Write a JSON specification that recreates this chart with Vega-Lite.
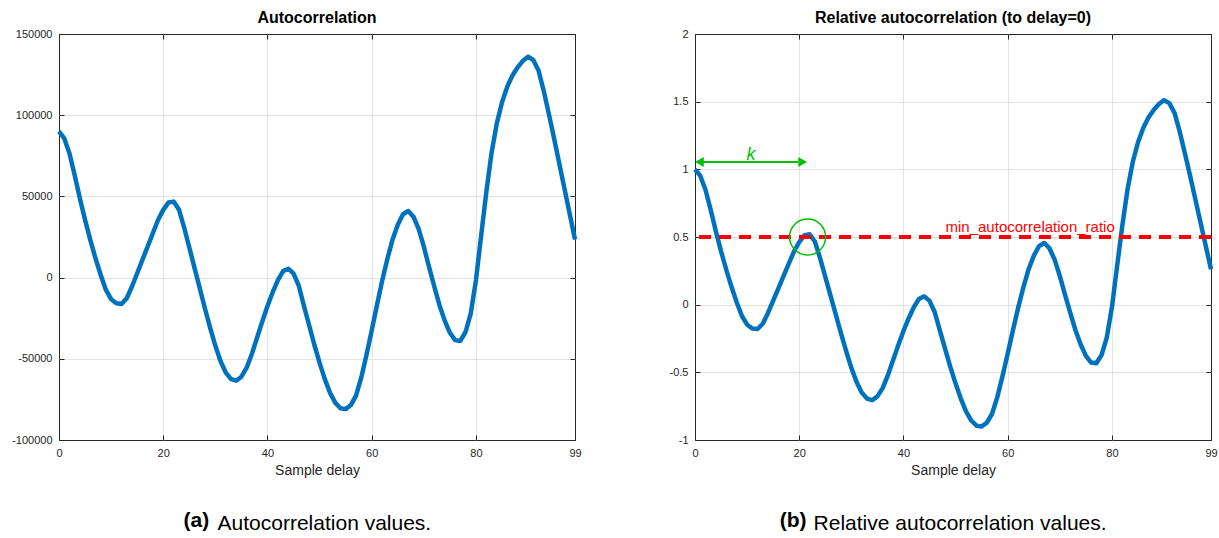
{
  "$schema": "https://vega.github.io/schema/vega-lite/v6.json",
  "padding": {"left": 11, "top": 9, "right": 0, "bottom": 0},
  "datasets": {
    "ac": [
      {"d":0,"v":90000,"r":1},{"d":1,"v":85800,"r":0.953},{"d":2,"v":76600,"r":0.851},{"d":3,"v":63200,"r":0.702},{"d":4,"v":48900,"r":0.543},
      {"d":5,"v":35500,"r":0.394},{"d":6,"v":23200,"r":0.258},{"d":7,"v":11900,"r":0.132},{"d":8,"v":1600,"r":0.018},{"d":9,"v":-7600,"r":-0.084},
      {"d":10,"v":-13300,"r":-0.148},{"d":11,"v":-15800,"r":-0.176},{"d":12,"v":-16200,"r":-0.18},{"d":13,"v":-12700,"r":-0.141},{"d":14,"v":-5500,"r":-0.061},
      {"d":15,"v":2700,"r":0.03},{"d":16,"v":10900,"r":0.121},{"d":17,"v":19100,"r":0.212},{"d":18,"v":27300,"r":0.303},{"d":19,"v":35500,"r":0.394},
      {"d":20,"v":41700,"r":0.463},{"d":21,"v":46200,"r":0.513},{"d":22,"v":46800,"r":0.52},{"d":23,"v":42000,"r":0.467},{"d":24,"v":31000,"r":0.344},
      {"d":25,"v":18500,"r":0.206},{"d":26,"v":6000,"r":0.067},{"d":27,"v":-6500,"r":-0.072},{"d":28,"v":-19000,"r":-0.211},{"d":29,"v":-31000,"r":-0.344},
      {"d":30,"v":-42000,"r":-0.467},{"d":31,"v":-51500,"r":-0.572},{"d":32,"v":-58500,"r":-0.65},{"d":33,"v":-62500,"r":-0.694},{"d":34,"v":-63500,"r":-0.706},
      {"d":35,"v":-61000,"r":-0.678},{"d":36,"v":-55500,"r":-0.617},{"d":37,"v":-47000,"r":-0.522},{"d":38,"v":-37000,"r":-0.411},{"d":39,"v":-27000,"r":-0.3},
      {"d":40,"v":-17500,"r":-0.194},{"d":41,"v":-9000,"r":-0.1},{"d":42,"v":-1500,"r":-0.017},{"d":43,"v":4000,"r":0.044},{"d":44,"v":5500,"r":0.061},
      {"d":45,"v":2500,"r":0.028},{"d":46,"v":-5000,"r":-0.056},{"d":47,"v":-17500,"r":-0.194},{"d":48,"v":-29500,"r":-0.328},{"d":49,"v":-41500,"r":-0.461},
      {"d":50,"v":-52500,"r":-0.583},{"d":51,"v":-62500,"r":-0.694},{"d":52,"v":-71000,"r":-0.789},{"d":53,"v":-77000,"r":-0.856},{"d":54,"v":-80500,"r":-0.894},
      {"d":55,"v":-81000,"r":-0.9},{"d":56,"v":-78500,"r":-0.872},{"d":57,"v":-72500,"r":-0.806},{"d":58,"v":-61500,"r":-0.683},{"d":59,"v":-47500,"r":-0.528},
      {"d":60,"v":-32500,"r":-0.361},{"d":61,"v":-17000,"r":-0.189},{"d":62,"v":-2000,"r":-0.022},{"d":63,"v":11500,"r":0.128},{"d":64,"v":23500,"r":0.261},
      {"d":65,"v":32500,"r":0.361},{"d":66,"v":39000,"r":0.433},{"d":67,"v":41000,"r":0.456},{"d":68,"v":37500,"r":0.417},{"d":69,"v":30000,"r":0.333},
      {"d":70,"v":19000,"r":0.211},{"d":71,"v":6500,"r":0.072},{"d":72,"v":-5500,"r":-0.061},{"d":73,"v":-17000,"r":-0.189},{"d":74,"v":-26500,"r":-0.294},
      {"d":75,"v":-34000,"r":-0.378},{"d":76,"v":-38500,"r":-0.428},{"d":77,"v":-39000,"r":-0.433},{"d":78,"v":-33500,"r":-0.372},{"d":79,"v":-22000,"r":-0.244},
      {"d":80,"v":-1500,"r":-0.017},{"d":81,"v":26000,"r":0.289},{"d":82,"v":53000,"r":0.589},{"d":83,"v":77000,"r":0.856},{"d":84,"v":95000,"r":1.056},
      {"d":85,"v":108000,"r":1.2},{"d":86,"v":117500,"r":1.306},{"d":87,"v":124500,"r":1.383},{"d":88,"v":129500,"r":1.439},{"d":89,"v":133500,"r":1.483},
      {"d":90,"v":136000,"r":1.511},{"d":91,"v":134000,"r":1.489},{"d":92,"v":127500,"r":1.417},{"d":93,"v":115000,"r":1.278},{"d":94,"v":100500,"r":1.117},
      {"d":95,"v":85500,"r":0.95},{"d":96,"v":70000,"r":0.778},{"d":97,"v":54500,"r":0.606},{"d":98,"v":39000,"r":0.433},{"d":99,"v":23500,"r":0.261}
    ],
    "ratioLabel": [{"d": 64.3, "r": 0.54, "label": "min_autocorrelation_ratio"}],
    "peak": [{"d": 21.6, "r": 0.5}],
    "arrow": [{"d": 0.85, "d2": 20.65, "r": 1.055}],
    "arrowLeft": [{"d": 0.85, "r": 1.055}],
    "arrowRight": [{"d": 20.65, "r": 1.055}],
    "kLabel": [{"d": 10.75, "r": 1.07, "label": "k"}]
  },
  "hconcat": [
    {
      "title": {"text": "(a)", "orient": "bottom", "fontWeight": "bold", "fontSize": 21, "color": "black", "anchor": "middle", "dx": -100, "dy": -24, "offset": 0},
      "vconcat": [
        {
          "title": {"text": "Autocorrelation values.", "orient": "bottom", "fontWeight": "normal", "fontSize": 21, "color": "black", "anchor": "middle", "dx": 28, "offset": 35},
          "vconcat": [
            {
              "width": 516,
              "height": 406,
              "title": {"text": "Autocorrelation"},
              "data": {"name": "ac"},
              "layer": [
                {
                  "mark": {"type": "line", "opacity": 0},
                  "encoding": {
                    "x": {"field": "d", "type": "quantitative", "axis": {"orient": "bottom", "offset": 0, "values": [20, 40, 60, 80], "grid": true, "ticks": false, "labels": false, "domain": false, "title": null}},
                    "y": {"field": "v", "type": "quantitative", "axis": {"orient": "left", "offset": 0, "values": [-50000, 0, 50000, 100000], "grid": true, "ticks": false, "labels": false, "domain": false, "title": null}}
                  }
                },
                {
                  "mark": {"type": "line", "color": "#0072BD", "strokeWidth": 4.5, "strokeJoin": "round", "strokeCap": "butt"},
                  "encoding": {
                    "x": {"field": "d", "type": "quantitative", "scale": {"domain": [0, 99], "nice": false, "zero": false},
                          "axis": {"orient": "bottom", "values": [0, 20, 40, 60, 80, 99], "title": "Sample delay", "labelPadding": 7}},
                    "y": {"field": "v", "type": "quantitative", "scale": {"domain": [-100000, 150000], "nice": false},
                          "axis": {"orient": "left", "values": [-100000, -50000, 0, 50000, 100000, 150000], "title": null, "labelPadding": 7, "labelExpr": "'' + datum.value"}}
                  }
                },
                {
                  "mark": {"type": "line", "opacity": 0},
                  "encoding": {
                    "x": {"field": "d", "type": "quantitative", "axis": {"orient": "top", "values": [0, 20, 40, 60, 80, 99], "labels": false, "title": null}},
                    "y": {"field": "v", "type": "quantitative", "axis": {"orient": "right", "values": [-100000, -50000, 0, 50000, 100000, 150000], "labels": false, "title": null}}
                  }
                }
              ],
              "resolve": {"axis": {"x": "independent", "y": "independent"}}
            }
          ]
        }
      ]
    },
    {
      "title": {"text": "(b)", "orient": "bottom", "fontWeight": "bold", "fontSize": 21, "color": "black", "anchor": "middle", "dx": -150, "dy": -24, "offset": 0},
      "vconcat": [
        {
          "title": {"text": "Relative autocorrelation values.", "orient": "bottom", "fontWeight": "normal", "fontSize": 21, "color": "black", "anchor": "middle", "dx": 17, "offset": 35},
          "vconcat": [
            {
              "width": 516,
              "height": 406,
              "title": {"text": "Relative autocorrelation (to delay=0)"},
              "data": {"name": "ac"},
              "layer": [
                {
                  "mark": {"type": "line", "opacity": 0},
                  "encoding": {
                    "x": {"field": "d", "type": "quantitative", "axis": {"orient": "bottom", "offset": 0, "values": [20, 40, 60, 80], "grid": true, "ticks": false, "labels": false, "domain": false, "title": null}},
                    "y": {"field": "r", "type": "quantitative", "axis": {"orient": "left", "offset": 0, "values": [-0.5, 0, 0.5, 1, 1.5], "grid": true, "ticks": false, "labels": false, "domain": false, "title": null}}
                  }
                },
                {
                  "mark": {"type": "line", "color": "#0072BD", "strokeWidth": 4.5, "strokeJoin": "round", "strokeCap": "butt"},
                  "encoding": {
                    "x": {"field": "d", "type": "quantitative", "scale": {"domain": [0, 99], "nice": false, "zero": false},
                          "axis": {"orient": "bottom", "values": [0, 20, 40, 60, 80, 99], "title": "Sample delay", "labelPadding": 7}},
                    "y": {"field": "r", "type": "quantitative", "scale": {"domain": [-1, 2], "nice": false},
                          "axis": {"orient": "left", "values": [-1, -0.5, 0, 0.5, 1, 1.5, 2], "title": null, "labelPadding": 7, "labelExpr": "'' + datum.value"}}
                  }
                },
                {
                  "mark": {"type": "line", "opacity": 0},
                  "encoding": {
                    "x": {"field": "d", "type": "quantitative", "axis": {"orient": "top", "values": [0, 20, 40, 60, 80, 99], "labels": false, "title": null}},
                    "y": {"field": "r", "type": "quantitative", "axis": {"orient": "right", "values": [-1, -0.5, 0, 0.5, 1, 1.5, 2], "labels": false, "title": null}}
                  }
                },
                {
                  "mark": {"type": "rule", "color": "#ff0000", "strokeWidth": 3, "strokeDash": [12, 8]},
                  "encoding": {"y": {"datum": 0.5, "type": "quantitative", "axis": null}}
                },
                {
                  "data": {"name": "ratioLabel"},
                  "mark": {"type": "text", "color": "#ff0000", "fontSize": 15, "align": "center", "baseline": "alphabetic"},
                  "encoding": {
                    "x": {"field": "d", "type": "quantitative", "axis": null},
                    "y": {"field": "r", "type": "quantitative", "axis": null},
                    "text": {"field": "label"}
                  }
                },
                {
                  "data": {"name": "peak"},
                  "mark": {"type": "point", "shape": "circle", "size": 1296, "filled": false, "color": "#00c000", "strokeWidth": 1.5, "opacity": 1},
                  "encoding": {
                    "x": {"field": "d", "type": "quantitative", "axis": null},
                    "y": {"field": "r", "type": "quantitative", "axis": null}
                  }
                },
                {
                  "data": {"name": "arrow"},
                  "mark": {"type": "rule", "color": "#00c000", "strokeWidth": 2},
                  "encoding": {
                    "x": {"field": "d", "type": "quantitative", "axis": null},
                    "x2": {"field": "d2"},
                    "y": {"field": "r", "type": "quantitative", "axis": null}
                  }
                },
                {
                  "data": {"name": "arrowLeft"},
                  "mark": {"type": "point", "shape": "triangle-left", "size": 100, "filled": true, "color": "#00c000", "opacity": 1},
                  "encoding": {
                    "x": {"field": "d", "type": "quantitative", "axis": null},
                    "y": {"field": "r", "type": "quantitative", "axis": null}
                  }
                },
                {
                  "data": {"name": "arrowRight"},
                  "mark": {"type": "point", "shape": "triangle-right", "size": 100, "filled": true, "color": "#00c000", "opacity": 1},
                  "encoding": {
                    "x": {"field": "d", "type": "quantitative", "axis": null},
                    "y": {"field": "r", "type": "quantitative", "axis": null}
                  }
                },
                {
                  "data": {"name": "kLabel"},
                  "mark": {"type": "text", "color": "#00c000", "fontSize": 18, "fontStyle": "italic", "align": "center", "baseline": "alphabetic"},
                  "encoding": {
                    "x": {"field": "d", "type": "quantitative", "axis": null},
                    "y": {"field": "r", "type": "quantitative", "axis": null},
                    "text": {"field": "label"}
                  }
                }
              ],
              "resolve": {"axis": {"x": "independent", "y": "independent"}}
            }
          ]
        }
      ]
    }
  ],
  "spacing": 86,
  "config": {
    "font": "Liberation Sans",
    "view": {"stroke": "#262626", "strokeWidth": 1},
    "axis": {
      "domain": false,
      "grid": false,
      "offset": -5,
      "tickColor": "#262626",
      "tickSize": 5,
      "labelColor": "#262626",
      "labelFontSize": 11,
      "labelFont": "Liberation Sans",
      "gridColor": "#e3e3e3",
      "gridWidth": 1,
      "titleFontSize": 14,
      "titleFontWeight": "normal",
      "titleColor": "#262626",
      "titlePadding": 5,
      "labelFlush": false
    },
    "title": {"fontSize": 16, "fontWeight": "bold", "color": "black", "offset": 2, "font": "Liberation Sans"},
    "concat": {"spacing": 0}
  }
}
